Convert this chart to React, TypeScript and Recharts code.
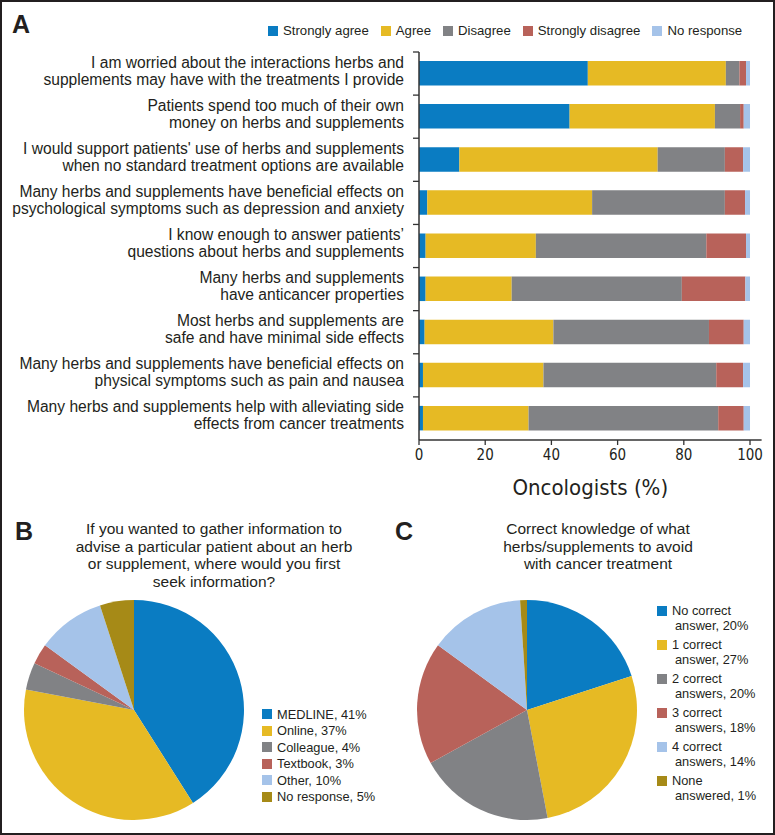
import React from 'react';
import { BarChart, Bar, XAxis, YAxis, PieChart, Pie, Cell, Legend } from 'recharts';

// --- panel A: agreement with statements (% of oncologists)
const statements = [
  'I am worried about the interactions herbs and\nsupplements may have with the treatments I provide',
  'Patients spend too much of their own\nmoney on herbs and supplements',
  "I would support patients' use of herbs and supplements\nwhen no standard treatment options are available",
  'Many herbs and supplements have beneficial effects on\npsychological symptoms such as depression and anxiety',
  'I know enough to answer patients\u2019\nquestions about herbs and supplements',
  'Many herbs and supplements\nhave anticancer properties',
  'Most herbs and supplements are\nsafe and have minimal side effects',
  'Many herbs and supplements have beneficial effects on\nphysical symptoms such as pain and nausea',
  'Many herbs and supplements help with alleviating side\neffects from cancer treatments',
];
const stronglyAgree = [51, 45.5, 12.2, 2.5, 2, 2, 1.7, 1.2, 1.2];
const agree = [41.7, 43.9, 59.9, 49.8, 33.3, 26, 38.9, 36.4, 31.9];
const disagree = [4.1, 7.6, 20.3, 40.1, 51.5, 51.4, 47, 52.2, 57.3];
const stronglyDisagree = [2, 1.1, 5.5, 6.1, 12, 19.2, 10.5, 8.1, 7.7];
const noResponse = [1.2, 1.9, 2.1, 1.5, 1.2, 1.4, 1.9, 2.1, 1.9];
const responseLabels = ['Strongly agree', 'Agree', 'Disagree', 'Strongly disagree', 'No response'];
const xTicks = [0, 20, 40, 60, 80, 100];

// --- panel B: first source of information
const sourceNames = ['MEDLINE', 'Online', 'Colleague', 'Textbook', 'Other', 'No response'];
const sourceValues = [41, 37, 4, 3, 10, 5];

// --- panel C: correct knowledge
const knowledgeNames = ['No correct', '1 correct', '2 correct', '3 correct', '4 correct', 'None'];
const knowledgeTail = ['answer', 'answer', 'answers', 'answers', 'answers', 'answered'];
const knowledgeValues = [20, 27, 20, 18, 14, 1];

const COLORS = ['#0a7cc2', '#e6ba24', '#818285', '#b8625a', '#a5c3e9', '#a68a17'];
const TEXT = '#231f20';
const SANS = '"Liberation Sans", Arial, sans-serif';
const NARROW = '"Liberation Sans Narrow", "DejaVu Sans Condensed", "Arial Narrow", sans-serif';

const AXIS_X = 419;
const PLOT_TOP = 52;
const PLOT_H = 388;
const BAND = PLOT_H / statements.length;

const barData = statements.map((s, i) => ({
  statement: s,
  sa: stronglyAgree[i],
  a: agree[i],
  d: disagree[i],
  sd: stronglyDisagree[i],
  nr: noResponse[i],
}));

const pieB = sourceNames.map((n, i) => ({ name: n, value: sourceValues[i], fill: COLORS[i] }));
const pieC = knowledgeNames.map((n, i) => ({ name: n, value: knowledgeValues[i], fill: COLORS[i] }));

const StatementTick = (props: any) => {
  const { y, payload } = props;
  const lines = String(payload.value).split('\n');
  const tx = AXIS_X - 15;
  return (
    <g>
      <line x1={AXIS_X - 6} x2={AXIS_X} y1={y - BAND / 2} y2={y - BAND / 2} stroke="#333" strokeWidth={1.3} />
      <text x={tx} y={y} textAnchor="end" fontSize={15.6} fontFamily={SANS} fill={TEXT}>
        <tspan x={tx} dy={-6}>{lines[0]}</tspan>
        <tspan x={tx} dy={17}>{lines[1]}</tspan>
      </text>
    </g>
  );
};

const Square = ({ color }: { color: string }) => (
  <span style={{ display: 'inline-block', width: 10, height: 10, background: color, marginRight: 5, flex: 'none' }} />
);

const ResponseLegend = () => (
  <div style={{ display: 'flex', alignItems: 'center', fontFamily: SANS, fontSize: 13.2, color: TEXT, whiteSpace: 'nowrap' }}>
    {responseLabels.map((l, i) => (
      <span key={l} style={{ display: 'flex', alignItems: 'center', marginRight: 12 }}>
        <Square color={COLORS[i]} />
        {l}
      </span>
    ))}
  </div>
);

const SourceLegend = () => (
  <div style={{ fontFamily: SANS, fontSize: 12.8, color: TEXT, whiteSpace: 'nowrap' }}>
    {sourceNames.map((n, i) => (
      <div key={n} style={{ display: 'flex', alignItems: 'center', height: 16.5 }}>
        <Square color={COLORS[i]} />
        {`${n}, ${sourceValues[i]}%`}
      </div>
    ))}
  </div>
);

const KnowledgeLegend = () => (
  <div style={{ fontFamily: SANS, fontSize: 12.8, color: TEXT, whiteSpace: 'nowrap', lineHeight: '15px' }}>
    {knowledgeNames.map((n, i) => (
      <div key={n} style={{ marginBottom: 4 }}>
        <div style={{ display: 'flex', alignItems: 'center' }}>
          <Square color={COLORS[i]} />
          {n}
        </div>
        <div style={{ paddingLeft: 18 }}>{`${knowledgeTail[i]}, ${knowledgeValues[i]}%`}</div>
      </div>
    ))}
  </div>
);

const abs = (left: number, top: number, extra: React.CSSProperties = {}): React.CSSProperties => ({
  position: 'absolute',
  left,
  top,
  ...extra,
});

const letter = (l: string, left: number, top: number) => (
  <div style={abs(left, top, { fontFamily: SANS, fontWeight: 700, fontSize: 25, lineHeight: '25px', color: TEXT })}>{l}</div>
);

export default function App() {
  return (
    <div
      style={{
        position: 'absolute',
        left: 0,
        top: 0,
        width: 775,
        height: 835,
        boxSizing: 'border-box',
        border: '2px solid #231f20',
        background: '#fff',
        overflow: 'hidden',
      }}
    >
      <div style={abs(-2, -2)}>
        <BarChart
          width={775}
          height={510}
          layout="vertical"
          data={barData}
          margin={{ top: PLOT_TOP, right: 13.4, bottom: 10, left: 0 }}
          barCategoryGap={0}
        >
          <XAxis
            type="number"
            domain={[0, 103.5]}
            ticks={xTicks}
            allowDataOverflow
            height={60}
            tickSize={5}
            tickMargin={4}
            axisLine={{ stroke: '#333', strokeWidth: 1.5 }}
            tickLine={{ stroke: '#333', strokeWidth: 1.3 }}
            tick={{ fill: TEXT, fontSize: 15, fontFamily: NARROW }}
            label={{ value: 'Oncologists (%)', position: 'insideTop', offset: 39, fill: TEXT, fontSize: 22, fontFamily: NARROW }}
          />
          <YAxis
            type="category"
            dataKey="statement"
            width={AXIS_X}
            interval={0}
            tickLine={false}
            axisLine={{ stroke: '#333', strokeWidth: 1.5 }}
            tick={<StatementTick />}
          />
          <Legend
            layout="horizontal"
            verticalAlign="middle"
            align="center"
            content={<ResponseLegend />}
            wrapperStyle={{ top: 23, left: 268, width: 'auto', height: 'auto' }}
          />
          <Bar dataKey="sa" name={responseLabels[0]} stackId="s" fill={COLORS[0]} barSize={24.5} isAnimationActive={false} />
          <Bar dataKey="a" name={responseLabels[1]} stackId="s" fill={COLORS[1]} barSize={24.5} isAnimationActive={false} />
          <Bar dataKey="d" name={responseLabels[2]} stackId="s" fill={COLORS[2]} barSize={24.5} isAnimationActive={false} />
          <Bar dataKey="sd" name={responseLabels[3]} stackId="s" fill={COLORS[3]} barSize={24.5} isAnimationActive={false} />
          <Bar dataKey="nr" name={responseLabels[4]} stackId="s" fill={COLORS[4]} barSize={24.5} isAnimationActive={false} />
        </BarChart>
      </div>

      {letter('A', 10, 10)}
      {letter('B', 13, 517)}
      {letter('C', 393, 517)}

      <div
        style={abs(52, 518, {
          width: 320,
          textAlign: 'center',
          fontFamily: SANS,
          fontSize: 15.5,
          lineHeight: '17.7px',
          color: TEXT,
        })}
      >
        If you wanted to gather information to
        <br />
        advise a particular patient about an herb
        <br />
        or supplement, where would you first
        <br />
        seek information?
      </div>

      <div
        style={abs(436, 518, {
          width: 320,
          textAlign: 'center',
          fontFamily: SANS,
          fontSize: 15.5,
          lineHeight: '17.7px',
          color: TEXT,
        })}
      >
        Correct knowledge of what
        <br />
        herbs/supplements to avoid
        <br />
        with cancer treatment
      </div>

      <div style={abs(-2, 498)}>
        <PieChart width={400} height={335} margin={{ top: 0, right: 0, bottom: 0, left: 0 }}>
          <Pie
            data={pieB}
            dataKey="value"
            nameKey="name"
            cx={134}
            cy={210}
            outerRadius={110}
            startAngle={90}
            endAngle={-270}
            stroke="none"
            isAnimationActive={false}
          >
            {pieB.map((d) => (
              <Cell key={d.name} fill={d.fill} />
            ))}
          </Pie>
          <Legend
            layout="vertical"
            verticalAlign="middle"
            align="right"
            content={<SourceLegend />}
            wrapperStyle={{ top: 206, left: 262, width: 'auto', height: 'auto' }}
          />
        </PieChart>
      </div>

      <div style={abs(398, 498)}>
        <PieChart width={377} height={335} margin={{ top: 0, right: 0, bottom: 0, left: 0 }}>
          <Pie
            data={pieC}
            dataKey="value"
            nameKey="name"
            cx={127}
            cy={210}
            outerRadius={110}
            startAngle={90}
            endAngle={-270}
            stroke="none"
            isAnimationActive={false}
          >
            {pieC.map((d) => (
              <Cell key={d.name} fill={d.fill} />
            ))}
          </Pie>
          <Legend
            layout="vertical"
            verticalAlign="middle"
            align="right"
            content={<KnowledgeLegend />}
            wrapperStyle={{ top: 103, left: 257, width: 'auto', height: 'auto' }}
          />
        </PieChart>
      </div>
    </div>
  );
}
